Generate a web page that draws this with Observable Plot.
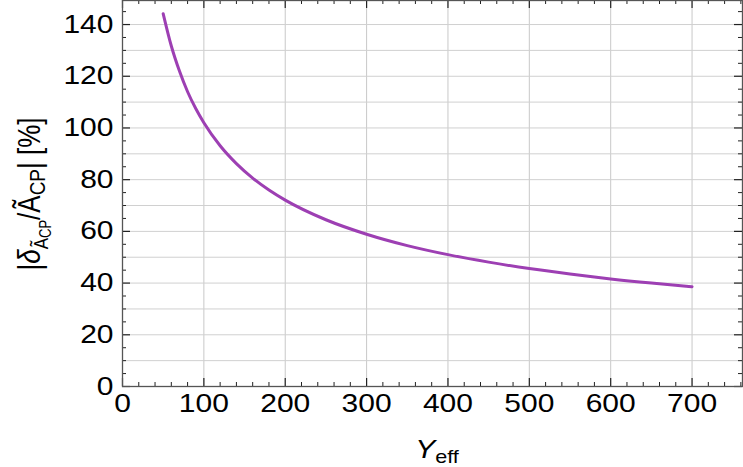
<!DOCTYPE html>
<html>
<head>
<meta charset="utf-8">
<script src="https://cdn.jsdelivr.net/npm/d3@7"></script>
<script src="https://cdn.jsdelivr.net/npm/@observablehq/plot@0.6"></script>
<style>
  html, body { margin: 0; padding: 0; background: #fff; }
  #chart svg { display: block; }
</style>
</head>
<body>
<div id="chart"></div>
<script>
// Curve readings: Y_eff vs |delta A_CP / A_CP| [%]
const yeff = [50, 60, 70, 80, 90, 100, 120, 140, 160, 180, 200, 250, 300, 350, 400, 450, 500, 550, 600, 650, 700];
const ratio = [144.2, 131.7, 122, 114, 107.5, 102, 93.1, 86.2, 80.6, 76, 72.1, 64.5, 58.9, 54.5, 51, 48.1, 45.6, 43.5, 41.6, 40, 38.6];

const xTickLabels = [0, 100, 200, 300, 400, 500, 600, 700];
const yTickLabels = [0, 20, 40, 60, 80, 100, 120, 140];
const xMinorTicks = d3.range(0, 761, 20);
const yMinorTicks = d3.range(0, 150, 5);
const xGrid = [100, 200, 300, 400, 500, 600, 700];
const yGrid = d3.range(10, 150, 10);

const data = yeff.map((x, i) => ({x, y: ratio[i]}));

const W = 743, H = 467;
const mL = 122, mR = 1, mT = 0, mB = 81;
const pw = W - mL - mR, ph = H - mT - mB;
const font = "'Liberation Sans', Arial, Helvetica, sans-serif";
const SX = 1.2; // horizontal glyph stretch seen in the reference

const plot = Plot.plot({
  width: W,
  height: H,
  marginLeft: mL,
  marginRight: mR,
  marginTop: mT,
  marginBottom: mB,
  style: {fontFamily: font, fontSize: "25px", color: "#000", background: "#fff"},
  x: {domain: [0, 762], label: null},
  y: {domain: [0, 149.3], label: null},
  marks: [
    Plot.ruleX(xGrid, {stroke: "#c8c8c8", strokeWidth: 1}),
    Plot.ruleY(yGrid, {stroke: "#d0d0d0", strokeWidth: 1}),
    // inward ticks: bottom & top
    Plot.tickX(xMinorTicks.filter(v => v % 100 !== 0), {x: d => d, insetTop: ph - 4, stroke: "#222", strokeWidth: 1}),
    Plot.tickX(xTickLabels, {x: d => d, insetTop: ph - 8, stroke: "#222", strokeWidth: 1.2}),
    Plot.tickX(xMinorTicks.filter(v => v % 100 !== 0), {x: d => d, insetBottom: ph - 4, stroke: "#222", strokeWidth: 1}),
    Plot.tickX(xTickLabels, {x: d => d, insetBottom: ph - 8, stroke: "#222", strokeWidth: 1.2}),
    // inward ticks: left & right
    Plot.tickY(yMinorTicks.filter(v => v % 20 !== 0), {y: d => d, insetRight: pw - 4, stroke: "#222", strokeWidth: 1}),
    Plot.tickY(yTickLabels, {y: d => d, insetRight: pw - 8, stroke: "#222", strokeWidth: 1.2}),
    Plot.tickY(yMinorTicks.filter(v => v % 20 !== 0), {y: d => d, insetLeft: pw - 4, stroke: "#222", strokeWidth: 1}),
    Plot.tickY(yTickLabels, {y: d => d, insetLeft: pw - 8, stroke: "#222", strokeWidth: 1.2}),
    Plot.frame({stroke: "#555", strokeWidth: 1.3}),
    Plot.axisX({ticks: xTickLabels, tickSize: 0, tickPadding: 8, label: null, fontSize: 25, tickFormat: d => String(d)}),
    Plot.axisY({ticks: yTickLabels, tickSize: 0, tickPadding: 9, label: null, fontSize: 25, tickFormat: d => String(d)}),
    Plot.line(data, {x: "x", y: "y", stroke: "#9d3fb3", strokeWidth: 3, curve: "monotone-x"})
  ]
});

const svg = d3.select(plot);

// stretch tick labels horizontally around their anchor
svg.selectAll("g[aria-label$='tick label'] text").each(function () {
  const t = this.getAttribute("transform") || "";
  this.setAttribute("transform", `${t} scale(${SX},1)`);
});

// x-axis title: Y_eff
const xt = svg.append("text")
  .attr("transform", `translate(${mL + pw / 2 + 5},458) scale(${SX},1)`)
  .attr("text-anchor", "middle")
  .attr("font-family", font)
  .attr("font-size", 25)
  .attr("fill", "#000");
xt.append("tspan").attr("font-style", "italic").text("Y");
xt.append("tspan").attr("font-size", 18).attr("dy", 5).text("eff");

// y-axis title: |δ_{Ã_CP}/Ã_CP| [%]
const yt = svg.append("text")
  .attr("transform", `translate(40,194) scale(${SX},1) rotate(-90)`)
  .attr("text-anchor", "middle")
  .attr("font-family", font)
  .attr("font-size", 26)
  .attr("fill", "#000");
yt.append("tspan").text("|");
yt.append("tspan").attr("font-style", "italic").text("δ");
yt.append("tspan").attr("font-size", 17).attr("dy", 7).text("Ã");
yt.append("tspan").attr("font-size", 13).attr("dy", 2).text("CP");
yt.append("tspan").attr("dy", -9).text("/Ã");
yt.append("tspan").attr("font-size", 19).attr("dy", 4).text("CP");
yt.append("tspan").attr("dy", -4).text("| [%]");

document.getElementById("chart").appendChild(plot);
</script>
</body>
</html>
